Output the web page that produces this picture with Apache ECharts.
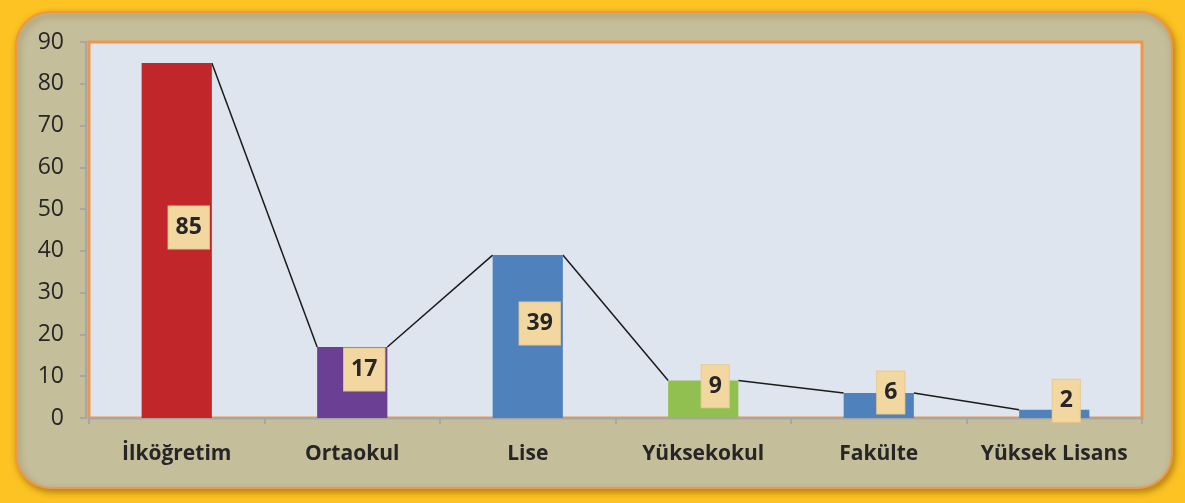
<!DOCTYPE html>
<html>
<head>
<meta charset="utf-8">
<script src="https://cdn.jsdelivr.net/npm/echarts@6/dist/echarts.min.js"></script>
<style>
  html, body { margin: 0; padding: 0; background: #ffffff; }
  #main { width: 1185px; height: 503px; }
</style>
</head>
<body>
<div id="main"></div>
<script>
// Eğitim durumu
var categories = ['İlköğretim', 'Ortaokul', 'Lise', 'Yüksekokul', 'Fakülte', 'Yüksek Lisans'];
var values = [85, 17, 39, 9, 6, 2];
var barColors = ['#c0262a', '#6b3f93', '#4f81bd', '#92c050', '#4f81bd', '#4f81bd'];
var yTicks = [0, 10, 20, 30, 40, 50, 60, 70, 80, 90];

var myChart = echarts.init(document.getElementById('main'));

var barData = values.map(function (v, i) {
    return { value: v, itemStyle: { color: barColors[i] } };
});

var option = {
    animation: false,
    backgroundColor: '#fcc323',
    graphic: [
        {
            type: 'rect',
            z: -10,
            shape: { x: 16, y: 12, width: 1156, height: 476, r: 34 },
            style: {
                fill: '#c4be9a',
                stroke: '#f0954a',
                lineWidth: 2,
                shadowBlur: 6,
                shadowOffsetX: 2,
                shadowOffsetY: 3,
                shadowColor: 'rgba(120,80,0,0.55)'
            }
        }
    ],
    grid: {
        left: 89,
        right: 43,
        top: 42,
        bottom: 85,
        show: true,
        backgroundColor: '#dfe5ef',
        borderColor: '#f0954a',
        borderWidth: 3
    },
    xAxis: {
        type: 'category',
        data: categories,
        offset: 2,
        axisLine: { lineStyle: { color: '#a6a6a6', width: 2 } },
        axisTick: { show: true, length: 6, lineStyle: { color: '#a6a6a6', width: 2 } },
        axisLabel: {
            interval: 0,
            margin: 24,
            color: '#262626',
            fontSize: 21,
            fontWeight: 'bold',
            fontFamily: 'Open Sans'
        }
    },
    yAxis: {
        type: 'value',
        min: 0,
        max: yTicks[yTicks.length - 1],
        interval: 10,
        offset: 3,
        splitLine: { show: false },
        axisLine: { show: true, lineStyle: { color: '#a6a6a6', width: 2 } },
        axisTick: { show: true, length: 6, lineStyle: { color: '#a6a6a6', width: 2 } },
        axisLabel: {
            margin: 22,
            color: '#262626',
            fontSize: 23,
            fontFamily: 'Open Sans'
        }
    },
    series: [
        {
            type: 'bar',
            data: barData,
            barWidth: '40%',
            z: 3,
            label: {
                show: true,
                position: 'inside',
                offset: [12, -13],
                color: '#262626',
                fontSize: 23,
                fontWeight: 'bold',
                fontFamily: 'Open Sans',
                backgroundColor: '#f2d7a0',
                borderColor: '#e8c98c',
                borderWidth: 1,
                padding: [8, 7, 8, 7],
                lineHeight: 26
            }
        },
        {
            // Excel'deki seri çizgileri: bir çubuğun sağ üst köşesinden sonrakinin sol üst köşesine
            type: 'custom',
            z: 2,
            silent: true,
            data: values.map(function (v, i) { return [i, v]; }),
            renderItem: function (params, api) {
                var i = api.value(0);
                if (i >= values.length - 1) return null;
                var band = api.size([1, 0])[0];
                var half = band * 0.4 / 2;
                var p1 = api.coord([i, values[i]]);
                var p2 = api.coord([i + 1, values[i + 1]]);
                return {
                    type: 'line',
                    shape: { x1: p1[0] + half, y1: p1[1], x2: p2[0] - half, y2: p2[1] },
                    style: { stroke: '#1a1a1a', lineWidth: 1.5 }
                };
            }
        }
    ]
};

myChart.setOption(option);
</script>
</body>
</html>
